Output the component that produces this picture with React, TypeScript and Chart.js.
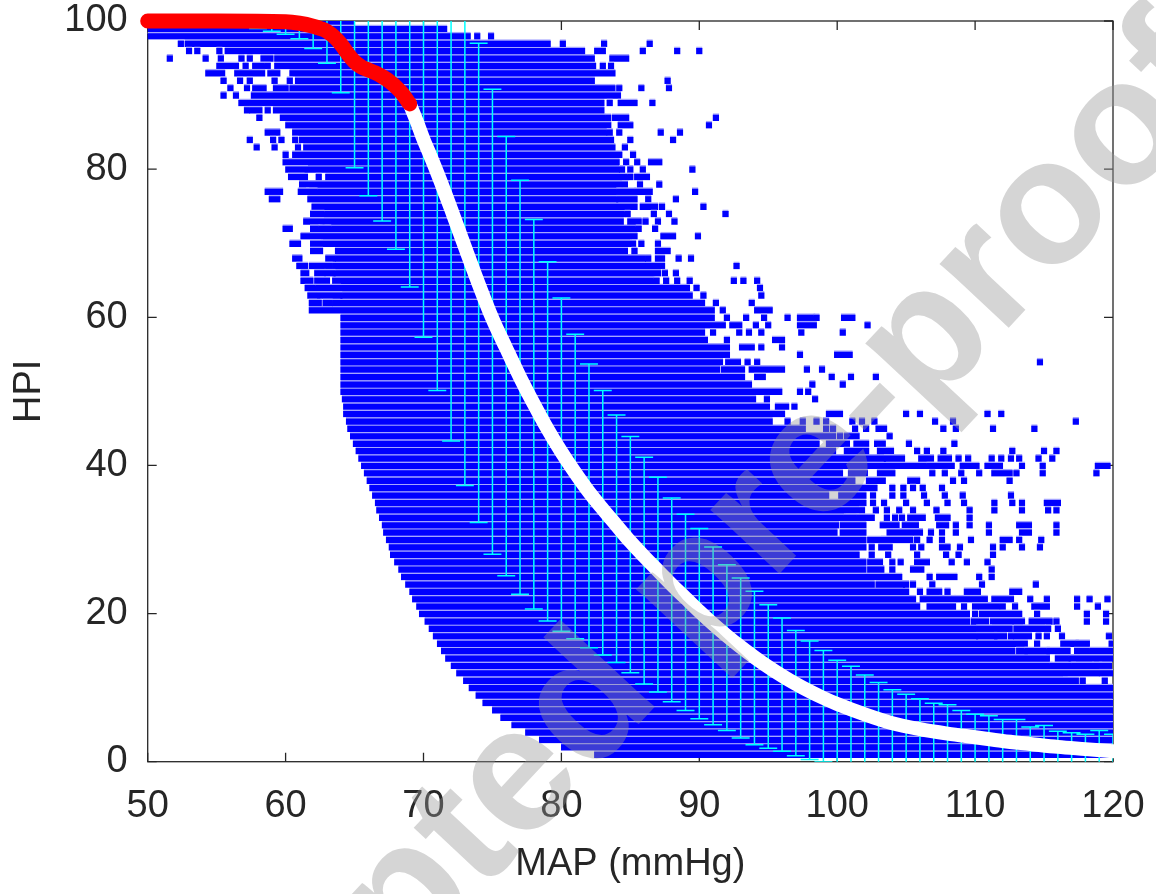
import React, { useEffect, useRef } from "react";
import { Chart, registerables } from "chart.js";

Chart.register(...registerables);

// ---------- axis ticks ----------
const xTickValues = [50, 60, 70, 80, 90, 100, 110, 120];
const yTickValues = [0, 20, 40, 60, 80, 100];

// ---------- dense blue rows: HPI level, MAP start, MAP end ----------
const rowHPI = [
  1, 2, 3, 4, 5, 6, 7, 8, 9, 10, 11, 12, 13, 14, 15, 16, 17, 18, 19, 20,
  21, 22, 23, 24, 25, 26, 27, 28, 29, 30, 31, 32, 33, 34, 35, 36, 37, 38, 39, 40,
  41, 42, 43, 44, 45, 46, 47, 48, 49, 50, 51, 52, 53, 54, 55, 56, 57, 58, 59, 60,
  61, 62, 63, 64, 65, 66, 67, 68, 69, 70, 71, 72, 73, 74, 75, 76, 77, 78, 79, 80,
  81, 82, 83, 84, 85, 86, 87, 88, 89, 90, 91, 92, 93, 94, 95, 96, 97, 98, 99, 100,
];
const rowFrom = [
  82.6, 80.2, 78.6, 77.6, 76.6, 75.8, 75.2, 74.5, 74.0, 73.5,
  73.1, 72.6, 72.2, 71.8, 71.5, 71.2, 70.9, 70.6, 70.3, 69.9,
  69.7, 69.4, 69.2, 68.9, 68.6, 68.4, 68.1, 67.8, 67.7, 67.5,
  67.3, 67.2, 67.0, 66.8, 66.7, 66.5, 66.3, 66.1, 65.9, 65.7,
  65.5, 65.3, 65.1, 64.9, 64.7, 64.6, 64.4, 64.4, 64.3, 64.2,
  64.2, 64.2, 64.2, 64.2, 64.2, 64.2, 64.2, 64.2, 64.2, 64.2,
  61.9, 63.6, 64.2, 64.2, 63.6, 63.7, 63.6, 63.8, 63.8, 62.8,
  61.3, 63.4, 62.9, 62.9, 62.1, 61.8, 62.4, 61.2, 63.1, 61.6,
  60.0, 60.7, 61.5, 61.2, 60.7, 60.2, 59.8, 59.3, 56.8, 57.7,
  60.5, 60.9, 60.5, 59.4, 59.4, 55.8, 52.9, 50.0, 50.0, 50.0,
];
const rowTo = [
  120, 120, 120, 120, 120, 120, 120, 120, 120, 120,
  116.5, 118.8, 115.4, 115.2, 112.7, 113.6, 110.0, 110.0, 109.4, 109.4,
  105.8, 105.5, 105.0, 102.5, 104.5, 101.9, 101.9, 101.4, 101.9, 101.9,
  99.8, 99.9, 100.4, 101.5, 101.9, 99.2, 102.7, 101.1, 100.2, 106.5,
  103.3, 99.7, 98.5, 98.5, 97.5, 95.1, 96.0, 94.9, 93.9, 95.8,
  93.6, 93.1, 91.3, 91.5, 92.0, 92.0, 90.4, 90.2, 91.7, 90.9,
  90.9, 90.2, 89.3, 89.1, 86.6, 87.0, 87.3, 85.9, 84.6, 84.9,
  85.3, 85.2, 84.3, 84.5, 85.3, 83.9, 83.9, 84.2, 84.7, 84.0,
  84.0, 84.2, 83.7, 83.6, 83.1, 83.4, 83.0, 82.9, 82.9, 84.1,
  83.7, 82.2, 83.7, 82.3, 82.2, 81.5, 79.0, 73.2, 71.5, 64.8,
];

// ---------- scattered blue pieces: [HPI, MAP from, MAP to] ----------
const piecesUpper: [number, number, number][] = [
  [98, 73.9, 73.9], [98, 74.9, 74.9],
  [97, 52.4, 52.4], [97, 80.1, 80.1], [97, 83.1, 83.1], [97, 86.4, 86.4],
  [96, 53.0, 53.0], [96, 53.6, 53.6], [96, 55.2, 55.2], [96, 82.6, 83.0], [96, 85.9, 85.9], [96, 88.4, 88.4], [96, 90.0, 90.0],
  [95, 51.6, 51.6], [95, 54.2, 54.2], [95, 55.3, 55.3], [95, 56.8, 56.8], [95, 57.4, 57.4], [95, 58.4, 58.9], [95, 83.7, 84.7],
  [94, 55.2, 56.4], [94, 57.1, 57.1], [94, 57.8, 58.3], [94, 58.7, 58.7], [94, 83.0, 83.0], [94, 83.6, 83.6],
  [93, 54.4, 55.4], [93, 56.5, 58.3], [93, 58.9, 59.4],
  [92, 55.5, 55.5], [92, 56.7, 56.7], [92, 57.4, 57.4], [92, 59.2, 59.2], [92, 60.3, 60.3], [92, 87.7, 87.7],
  [91, 56.0, 56.0], [91, 57.2, 57.2], [91, 57.8, 58.4], [91, 59.3, 60.0], [91, 84.2, 84.2], [91, 85.8, 85.8], [91, 87.8, 87.8],
  [90, 55.5, 55.5], [90, 56.4, 56.4],
  [89, 83.5, 83.5], [89, 84.3, 85.3], [89, 86.6, 86.6],
  [88, 57.2, 57.2], [88, 57.6, 58.1], [88, 58.7, 58.7],
  [87, 58.1, 58.1], [87, 83.4, 83.4], [87, 83.9, 84.7], [87, 91.2, 91.2],
  [86, 84.3, 85.0], [86, 90.7, 90.7],
  [85, 58.7, 59.4], [85, 83.5, 83.5], [85, 84.2, 84.2], [85, 87.2, 87.2], [85, 88.6, 88.6],
  [84, 57.4, 57.4], [84, 59.1, 59.1], [84, 59.7, 59.7], [84, 60.7, 60.7], [84, 85.0, 85.0], [84, 88.1, 88.1],
  [83, 57.9, 57.9], [83, 59.2, 59.2], [83, 60.9, 60.9], [83, 84.6, 84.6],
  [82, 60.0, 60.0], [82, 85.2, 85.2],
  [81, 84.7, 84.7], [81, 85.5, 85.5], [81, 86.5, 87.1],
  [80, 60.2, 61.4], [80, 84.4, 84.4], [80, 85.0, 85.0], [80, 85.9, 85.9], [80, 89.5, 89.5],
  [79, 60.4, 61.4], [79, 62.4, 62.4], [79, 85.0, 85.0], [79, 85.5, 86.2],
  [78, 84.6, 84.6], [78, 85.7, 85.7], [78, 87.1, 87.1],
  [77, 58.7, 59.6], [77, 61.1, 61.5], [77, 61.7, 62.1], [77, 84.2, 85.2], [77, 85.5, 86.4], [77, 89.7, 89.7],
  [76, 59.0, 59.4], [76, 84.2, 85.3], [76, 86.3, 86.3], [76, 88.3, 88.3],
  [75, 85.9, 86.8], [75, 87.3, 87.3], [75, 90.3, 90.3],
  [74, 62.0, 62.6], [74, 84.8, 84.8], [74, 86.7, 86.7], [74, 87.8, 87.8], [74, 91.9, 91.9],
  [73, 61.5, 62.6], [73, 85.0, 85.6], [73, 86.1, 86.1], [73, 87.0, 87.0], [73, 88.2, 88.2],
  [72, 60.0, 60.3], [72, 62.0, 62.3], [72, 62.6, 63.1], [72, 85.6, 85.6], [72, 86.8, 86.8],
  [71, 87.4, 88.1], [71, 89.9, 89.9],
  [70, 60.5, 60.9], [70, 62.0, 62.5], [70, 85.2, 85.2], [70, 85.8, 85.8], [70, 87.0, 87.0],
  [69, 62.0, 62.5], [69, 85.3, 85.3], [69, 87.0, 87.7],
  [68, 60.7, 61.0], [68, 63.1, 63.4], [68, 86.3, 86.3], [68, 87.0, 87.3], [68, 88.5, 88.5], [68, 89.4, 89.4],
  [67, 61.0, 61.4], [67, 61.9, 63.2], [67, 92.7, 92.7],
  [66, 61.3, 61.5], [66, 62.3, 62.7], [66, 63.0, 63.4], [66, 87.5, 87.5], [66, 88.3, 88.3],
  [65, 61.3, 61.8], [65, 62.3, 63.0], [65, 86.9, 86.9], [65, 87.6, 87.6], [65, 88.4, 88.4], [65, 89.3, 89.3], [65, 92.5, 92.5], [65, 93.2, 93.2], [65, 94.2, 94.2],
  [64, 61.6, 62.0], [64, 62.4, 63.8], [64, 89.8, 89.8], [64, 94.4, 94.4],
  [63, 61.8, 62.3], [63, 62.5, 63.9], [63, 90.3, 90.3], [63, 94.5, 94.5],
  [62, 61.9, 62.4], [62, 62.9, 63.2], [62, 91.2, 91.2], [62, 93.8, 93.8],
  [61, 91.7, 91.7], [61, 94.2, 95.1],
  [60, 92.0, 92.0], [60, 93.4, 93.4], [60, 94.7, 94.7], [60, 96.4, 96.4], [60, 97.3, 98.2], [60, 98.5, 98.5], [60, 100.5, 101.1],
  [59, 92.4, 92.9], [59, 94.1, 94.1], [59, 95.0, 95.0], [59, 97.3, 98.3], [59, 102.2, 102.2],
  [58, 91.0, 91.0], [58, 92.9, 92.9], [58, 93.6, 93.6], [58, 94.5, 94.5], [58, 97.4, 97.4], [58, 100.4, 100.4],
];

const piecesMiddle: [number, number, number][] = [
  [57, 92.0, 92.0], [57, 95.5, 96.0],
  [56, 93.1, 93.8], [56, 94.5, 94.5], [56, 96.0, 96.0],
  [55, 97.3, 97.3], [55, 100.0, 100.9],
  [54, 92.1, 92.8], [54, 93.5, 93.5], [54, 94.2, 94.2], [54, 114.7, 114.7],
  [53, 91.8, 93.1], [53, 93.8, 96.0], [53, 97.8, 97.8], [53, 98.9, 98.9],
  [52, 94.2, 94.6], [52, 99.6, 99.6], [52, 101.0, 101.0], [52, 102.8, 102.8],
  [51, 98.2, 98.2], [51, 100.4, 100.4],
  [50, 97.3, 97.3], [50, 97.9, 97.9],
  [49, 94.9, 94.9], [49, 98.4, 98.4],
  [48, 95.7, 96.3], [48, 96.9, 96.9],
  [47, 99.4, 100.2], [47, 105.0, 105.0], [47, 106.0, 106.0], [47, 110.9, 110.9], [47, 111.9, 111.9],
  [46, 96.4, 96.4], [46, 97.5, 97.5], [46, 98.5, 98.5], [46, 99.2, 99.2], [46, 101.1, 101.1], [46, 101.8, 101.8], [46, 102.7, 102.7], [46, 107.1, 107.1], [46, 108.4, 108.4], [46, 117.3, 117.3],
  [45, 99.2, 99.2], [45, 99.7, 99.7], [45, 101.3, 101.3], [45, 102.1, 102.1], [45, 103.0, 103.4], [45, 107.7, 107.7], [45, 108.6, 108.6], [45, 111.3, 111.3], [45, 114.3, 114.3],
  [44, 98.9, 99.7], [44, 100.2, 100.2], [44, 100.7, 101.4], [44, 103.8, 103.8],
  [43, 99.4, 100.7], [43, 101.4, 102.1], [43, 102.9, 103.3], [43, 105.2, 105.2], [43, 108.5, 108.5],
  [42, 100.7, 102.1], [42, 103.1, 103.9], [42, 105.8, 105.8], [42, 106.5, 106.5], [42, 107.7, 107.7], [42, 112.7, 112.7], [42, 115.0, 115.0], [42, 115.9, 115.9],
  [41, 103.6, 104.7], [41, 106.1, 106.8], [41, 107.5, 108.1], [41, 108.8, 108.8], [41, 109.5, 109.5], [41, 111.2, 111.2], [41, 111.9, 111.9], [41, 112.6, 112.6], [41, 113.2, 113.2], [41, 114.6, 114.6], [41, 115.6, 115.6],
  [40, 106.7, 108.3], [40, 109.1, 110.1], [40, 110.9, 111.8], [40, 113.4, 113.4], [40, 114.9, 114.9], [40, 118.9, 119.6],
  [39, 101.0, 102.0], [39, 103.1, 104.0], [39, 106.9, 106.9], [39, 107.8, 107.8], [39, 109.0, 109.0], [39, 110.3, 110.3], [39, 111.4, 112.5], [39, 113.0, 113.0], [39, 114.9, 114.9], [39, 118.8, 118.8],
  [38, 102.3, 103.3], [38, 105.3, 105.8], [38, 108.4, 108.4], [38, 109.2, 109.2], [38, 112.5, 112.5],
  [37, 104.0, 104.0], [37, 104.8, 104.8], [37, 105.5, 105.5], [37, 106.2, 106.2], [37, 107.6, 107.6],
];

const piecesLower: [number, number, number][] = [
  [36, 100.3, 101.9], [36, 102.6, 102.6], [36, 104.0, 104.0], [36, 104.8, 104.8], [36, 106.3, 106.3], [36, 107.8, 107.8], [36, 109.1, 109.1], [36, 112.6, 112.6],
  [35, 102.6, 102.6], [35, 103.4, 103.4], [35, 105.0, 105.0], [35, 106.5, 106.5], [35, 108.0, 108.0], [35, 109.2, 109.2], [35, 111.4, 111.4], [35, 112.7, 112.7], [35, 113.4, 113.4], [35, 115.2, 116.0],
  [34, 101.8, 101.8], [34, 102.8, 102.8], [34, 103.6, 103.6], [34, 104.5, 104.5], [34, 105.5, 105.5], [34, 107.2, 107.2], [34, 109.6, 109.6], [34, 111.4, 111.4], [34, 113.4, 113.4], [34, 115.3, 115.3], [34, 115.9, 115.9],
  [33, 100.7, 101.5], [33, 101.6, 102.5], [33, 103.6, 103.6], [33, 104.2, 104.2], [33, 104.7, 104.7], [33, 105.3, 106.2], [33, 107.3, 108.0], [33, 109.6, 109.6],
  [32, 100.4, 101.9], [32, 103.3, 104.3], [32, 104.9, 105.7], [32, 107.4, 107.9], [32, 108.6, 108.6], [32, 109.6, 109.6], [32, 111.0, 111.0], [32, 113.2, 113.9], [32, 115.9, 115.9],
  [31, 100.4, 101.9], [31, 103.8, 106.0], [31, 106.8, 106.8], [31, 107.6, 107.6], [31, 108.6, 108.6], [31, 111.0, 111.0], [31, 113.4, 113.9], [31, 115.9, 115.9],
  [30, 102.4, 103.3], [30, 103.4, 105.3], [30, 105.8, 105.8], [30, 106.7, 106.7], [30, 107.6, 107.6], [30, 109.7, 109.7], [30, 112.0, 112.5], [30, 113.2, 113.2], [30, 114.8, 114.8],
  [29, 102.5, 102.5], [29, 103.2, 103.8], [29, 105.5, 105.5], [29, 106.1, 106.1], [29, 107.6, 107.6], [29, 108.0, 108.0], [29, 108.9, 108.9], [29, 111.3, 111.3], [29, 112.0, 112.0], [29, 113.4, 113.4], [29, 114.7, 114.7],
  [28, 102.5, 102.5], [28, 103.7, 103.7], [28, 105.8, 105.8], [28, 107.9, 107.9], [28, 108.8, 108.8], [28, 111.3, 111.3],
  [27, 102.4, 103.1], [27, 104.0, 104.0], [27, 104.6, 104.6], [27, 105.8, 106.5], [27, 108.3, 108.3], [27, 109.4, 109.4], [27, 110.9, 110.9],
  [26, 102.4, 103.2], [26, 104.0, 104.0], [26, 105.5, 106.1], [26, 111.2, 111.2],
  [25, 106.7, 106.7], [25, 107.4, 108.5], [25, 110.3, 110.3], [25, 111.2, 111.2],
  [24, 103.0, 104.7], [24, 105.0, 105.0], [24, 105.5, 105.5], [24, 106.9, 106.9], [24, 110.5, 110.5], [24, 114.4, 114.4],
  [23, 106.0, 106.0], [23, 106.7, 107.4], [23, 108.0, 108.0], [23, 109.4, 110.2], [23, 112.7, 113.2],
  [22, 106.2, 107.3], [22, 107.6, 108.4], [22, 108.7, 110.3], [22, 110.7, 110.7], [22, 111.4, 112.6], [22, 114.0, 114.0], [22, 115.2, 115.2], [22, 117.4, 117.4], [22, 118.3, 118.3], [22, 119.6, 119.6],
  [21, 106.7, 108.4], [21, 109.2, 109.2], [21, 110.0, 111.6], [21, 112.0, 112.0], [21, 112.9, 112.9], [21, 114.3, 115.2], [21, 117.4, 117.4], [21, 118.9, 118.9],
  [20, 110.0, 110.0], [20, 110.5, 113.2], [20, 114.5, 114.5], [20, 118.1, 118.1], [20, 119.5, 119.5],
  [19, 109.9, 110.8], [19, 111.3, 113.4], [19, 114.1, 115.4], [19, 115.9, 115.9], [19, 118.1, 118.1], [19, 119.5, 119.5],
  [18, 110.3, 111.0], [18, 111.3, 112.5], [18, 113.0, 113.4], [18, 113.7, 114.9], [18, 115.3, 115.3], [18, 116.0, 116.0],
  [17, 110.3, 111.4], [17, 111.6, 112.1], [17, 112.6, 112.6], [17, 113.0, 113.9], [17, 114.6, 114.6], [17, 115.2, 115.2], [17, 116.3, 116.3], [17, 119.7, 119.7],
  [16, 114.5, 114.5], [16, 116.4, 117.3], [16, 117.5, 118.1], [16, 119.9, 119.9],
  [15, 113.2, 113.6], [15, 113.8, 115.2], [15, 115.4, 116.7], [15, 117.4, 118.1], [15, 118.5, 120.0],
  [14, 116.0, 116.7], [14, 117.0, 120.0],
  [13, 115.6, 117.1], [13, 117.2, 118.4], [13, 118.7, 119.0], [13, 119.2, 119.7],
  [12, 119.2, 120.0],
  [11, 116.6, 117.3], [11, 117.8, 117.8], [11, 119.4, 119.4],
];

// ---------- error bars (mean ± SD) per integer MAP ----------
const errMAP = [
  50, 51, 52, 53, 54, 55, 56, 57, 58, 59, 60, 61, 62, 63, 64, 65, 66, 67, 68, 69,
  70, 71, 72, 73, 74, 75, 76, 77, 78, 79, 80, 81, 82, 83, 84, 85, 86, 87, 88, 89,
  90, 91, 92, 93, 94, 95, 96, 97, 98, 99, 100, 101, 102, 103, 104, 105, 106, 107, 108, 109,
  110, 111, 112, 113, 114, 115, 116, 117, 118, 119, 120,
];
const errLow = [
  99.9, 99.9, 99.8, 99.8, 99.7, 99.6, 99.5, 99.3, 99.0, 98.6, 98.2, 97.6, 96.3, 94.3, 90.3, 80.2, 76.4, 73.0, 69.2, 64.1,
  57.3, 50.1, 43.3, 37.3, 32.3, 28.0, 25.1, 22.6, 20.6, 19.0, 17.6, 16.6, 15.4, 14.4, 13.4, 12.0, 10.5, 9.4, 8.1, 6.9,
  5.8, 5.0, 4.2, 3.2, 2.3, 1.8, 1.4, 0.8, 0.3, 0.0, -0.4, -0.6, -0.8, -0.9, -1.0, -1.1, -1.0, -1.1, -1.2, -1.0,
  -0.9, -1.0, -1.0, -1.1, -0.9, -1.0, -0.9, -0.9, -0.9, -1.0, -0.9,
];
const errHigh = [
  100.1, 100.1, 100.2, 100.2, 100.3, 100.4, 100.5, 100.7, 101.0, 101.4, 101.8, 102.2, 102.5, 103.3, 103.9, 108.6, 110.4, 111.4, 112.4, 113.3,
  111.0, 109.0, 105.8, 101.2, 97.0, 90.8, 84.4, 78.5, 73.2, 67.5, 62.6, 57.7, 53.7, 50.1, 46.8, 43.9, 41.1, 38.4, 35.6, 33.4,
  31.5, 29.0, 26.6, 24.8, 23.0, 21.2, 19.4, 17.7, 16.3, 15.0, 13.7, 12.9, 11.7, 10.7, 9.7, 9.1, 8.5, 7.9, 7.7, 6.9,
  6.4, 6.2, 5.7, 5.7, 4.7, 4.9, 4.1, 3.9, 3.7, 4.2, 3.7,
];

// ---------- mean curve (red part: MAP < 69, white part after) ----------
const redMAP = [50, 55, 60, 61, 62, 62.5, 63, 63.5, 64, 64.5, 65, 65.5, 66, 66.5, 67, 67.5, 68, 68.5, 69];
const redHPI = [100, 100, 99.9, 99.7, 99.3, 99.0, 98.6, 97.9, 96.9, 95.6, 94.5, 93.8, 93.4, 93.0, 92.5, 91.9, 91.1, 90.1, 88.8];
const whiteMAP = [
  69, 69.5, 70, 70.5, 71, 72, 73, 74, 75, 76, 77, 78, 79, 80, 81, 82, 83, 84, 85, 86, 87, 88, 89, 90,
  91, 92, 93, 94, 95, 96, 97, 98, 99, 100, 102, 104, 106, 108, 110, 112, 114, 116, 118, 120,
];
const whiteHPI = [
  88.8, 86.5, 84.0, 81.8, 79.5, 74.6, 69.5, 64.5, 59.8, 55.8, 51.9, 48.3, 44.9, 41.8, 39.0, 36.4, 34.1, 31.9, 29.7, 27.7, 25.8, 23.9, 22.1, 20.3,
  18.6, 17.0, 15.5, 14.1, 12.8, 11.6, 10.5, 9.5, 8.6, 7.8, 6.4, 5.2, 4.4, 3.8, 3.3, 2.8, 2.4, 2.0, 1.7, 1.4,
];

const FONT = "'Liberation Sans', Arial, Helvetica, sans-serif";
const INK = "#262626";
const HALF_SQUARE = 0.23; // half marker width, in MAP units
const CAP_HALF = 0.65;

export default function App() {
  const ref = useRef<HTMLCanvasElement | null>(null);

  useEffect(() => {
    document.body.style.margin = "0";
    const canvas = ref.current;
    if (!canvas) return;

    const blueBars: { x: [number, number]; y: number }[] = [];
    rowHPI.forEach((h, i) => blueBars.push({ x: [rowFrom[i] - HALF_SQUARE, rowTo[i] + HALF_SQUARE], y: h }));
    [...piecesUpper, ...piecesMiddle, ...piecesLower].forEach(([h, a, b]) =>
      blueBars.push({ x: [a - HALF_SQUARE, b + HALF_SQUARE], y: h })
    );

    const errLines: { x: number; y: number | null }[] = [];
    errMAP.forEach((m, i) => {
      errLines.push({ x: m, y: errLow[i] }, { x: m, y: errHigh[i] }, { x: m, y: null });
      errLines.push({ x: m - CAP_HALF, y: errLow[i] }, { x: m + CAP_HALF, y: errLow[i] }, { x: m, y: null });
      errLines.push({ x: m - CAP_HALF, y: errHigh[i] }, { x: m + CAP_HALF, y: errHigh[i] }, { x: m, y: null });
    });

    const redData = redMAP.map((m, i) => ({ x: m, y: redHPI[i] }));
    const whiteData = whiteMAP.map((m, i) => ({ x: m, y: whiteHPI[i] }));

    const framePlugin = {
      id: "frame",
      beforeDatasetsDraw(chart: any) {
        const { ctx, chartArea: a, scales } = chart;
        const xs = scales.x;
        const ys = scales.y;
        ctx.save();
        ctx.strokeStyle = INK;
        ctx.lineWidth = 1.3;
        ctx.strokeRect(a.left, a.top, a.right - a.left, a.bottom - a.top);
        const len = 9;
        ctx.beginPath();
        xTickValues.forEach((v) => {
          const px = xs.getPixelForValue(v);
          ctx.moveTo(px, a.bottom);
          ctx.lineTo(px, a.bottom - len);
          ctx.moveTo(px, a.top);
          ctx.lineTo(px, a.top + len);
        });
        yTickValues.forEach((v) => {
          const py = ys.getPixelForValue(v);
          ctx.moveTo(a.left, py);
          ctx.lineTo(a.left + len, py);
          ctx.moveTo(a.right, py);
          ctx.lineTo(a.right - len, py);
        });
        ctx.stroke();
        ctx.restore();
      },
    };

    const watermarkPlugin = {
      id: "watermark",
      afterDatasetsDraw(chart: any) {
        const { ctx, width, height } = chart;
        ctx.save();
        ctx.translate(width * 0.556, height * 0.73);
        ctx.rotate((-47 * Math.PI) / 180);
        ctx.font = `bold 178px ${FONT}`;
        ctx.textAlign = "center";
        ctx.textBaseline = "alphabetic";
        ctx.fillStyle = "rgba(150,150,150,0.4)";
        ctx.fillText("Accepted pre-proof", 0, 46);
        ctx.restore();
      },
    };

    const chart = new Chart(canvas, {
      type: "scatter",
      data: {
        datasets: [
          {
            type: "line",
            data: redData,
            borderColor: "#ff0000",
            borderWidth: 15,
            pointRadius: 0,
            cubicInterpolationMode: "monotone",
            borderCapStyle: "round",
            borderJoinStyle: "round",
            fill: false,
            clip: false,
            order: 0,
          } as any,
          {
            type: "line",
            data: whiteData,
            borderColor: "#ffffff",
            borderWidth: 14,
            pointRadius: 0,
            cubicInterpolationMode: "monotone",
            borderCapStyle: "round",
            borderJoinStyle: "round",
            fill: false,
            clip: false,
            order: 1,
          } as any,
          {
            type: "line",
            data: errLines,
            borderColor: "#00ffff",
            borderWidth: 1.5,
            pointRadius: 0,
            spanGaps: false,
            tension: 0,
            fill: false,
            clip: 0,
            order: 2,
          } as any,
          {
            type: "bar",
            indexAxis: "y",
            data: blueBars,
            backgroundColor: "#0000ff",
            borderColor: "#a4a4ff",
            borderWidth: { top: 1.5, right: 0, bottom: 0, left: 0 },
            borderSkipped: false,
            barThickness: 7.4,
            grouping: false,
            order: 3,
          } as any,
        ],
      },
      options: {
        responsive: false,
        devicePixelRatio: 1,
        animation: false,
        events: [],
        layout: { padding: 0 },
        plugins: { legend: { display: false }, tooltip: { enabled: false } },
        scales: {
          x: {
            type: "linear",
            position: "bottom",
            min: 50,
            max: 120,
            offset: false,
            z: 1,
            grid: { display: false, drawTicks: false },
            border: { display: false },
            afterBuildTicks: (s: any) => {
              s.ticks = xTickValues.map((v) => ({ value: v }));
            },
            ticks: { font: { family: FONT, size: 38 }, color: INK, padding: 22, maxRotation: 0, autoSkip: false },
            title: {
              display: true,
              text: "MAP (mmHg)",
              font: { family: FONT, size: 38 },
              color: INK,
              padding: { top: 0, bottom: 7 },
            },
            afterFit: (s: any) => {
              s.height = 132.3;
              s.paddingLeft = 0;
              s.paddingRight = 43;
            },
          },
          y: {
            type: "linear",
            position: "left",
            min: 0,
            max: 100,
            offset: false,
            z: 1,
            grid: { display: false, drawTicks: false },
            border: { display: false },
            afterBuildTicks: (s: any) => {
              s.ticks = yTickValues.map((v) => ({ value: v }));
            },
            ticks: { font: { family: FONT, size: 38 }, color: INK, padding: 20, autoSkip: false },
            title: {
              display: true,
              text: "HPI",
              font: { family: FONT, size: 38 },
              color: INK,
              padding: { top: 7, bottom: 0 },
            },
            afterFit: (s: any) => {
              s.width = 147.7;
              s.paddingTop = 21;
              s.paddingBottom = 0;
            },
          },
        },
      } as any,
      plugins: [framePlugin, watermarkPlugin],
    });

    return () => chart.destroy();
  }, []);

  return (
    <div style={{ width: 1156, height: 894 }}>
      <canvas ref={ref} width={1156} height={894} style={{ display: "block" }} />
    </div>
  );
}
